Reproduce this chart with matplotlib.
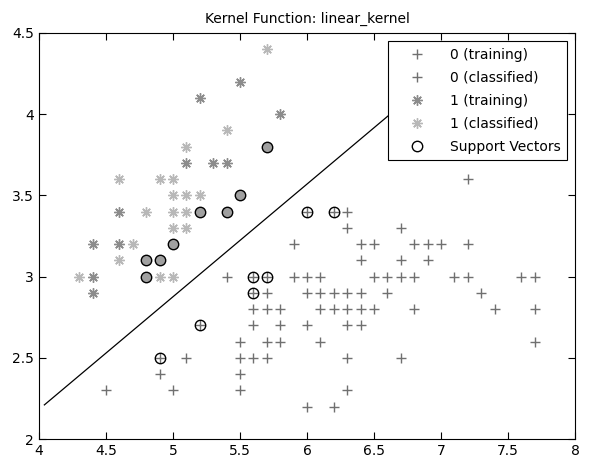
import numpy as np
import matplotlib.pyplot as plt
from matplotlib.ticker import FormatStrFormatter

plt.rcParams['font.family'] = ['DejaVu Sans']

# class 0 (non-setosa) points, read row by row
c0_train_x = [7.2,
              6.0, 6.2, 6.3,
              6.3, 6.7,
              5.9, 6.4, 6.5, 6.8, 6.9, 7.0, 7.2,
              6.4, 6.7, 6.9,
              5.4, 5.6, 5.7, 5.9, 6.0, 6.1, 6.5, 6.6, 6.7, 6.8, 7.1, 7.2, 7.6, 7.7,
              5.6, 5.7, 6.0, 6.1, 6.2, 6.3, 6.4, 6.6, 7.3,
              5.6, 5.7, 5.8, 6.1, 6.2, 6.3, 6.4, 6.5, 6.8, 7.4, 7.7,
              5.2, 5.6, 5.8, 6.0, 6.3, 6.4,
              5.5, 5.7, 5.8, 6.1, 7.7,
              4.9, 5.1, 5.5, 5.6, 5.7, 6.3, 6.7,
              4.9, 5.5,
              4.5, 5.0, 5.5, 6.3,
              6.0, 6.2]
c0_train_y = [3.6,
              3.4, 3.4, 3.4,
              3.3, 3.3,
              3.2, 3.2, 3.2, 3.2, 3.2, 3.2, 3.2,
              3.1, 3.1, 3.1,
              3.0, 3.0, 3.0, 3.0, 3.0, 3.0, 3.0, 3.0, 3.0, 3.0, 3.0, 3.0, 3.0, 3.0,
              2.9, 2.9, 2.9, 2.9, 2.9, 2.9, 2.9, 2.9, 2.9,
              2.8, 2.8, 2.8, 2.8, 2.8, 2.8, 2.8, 2.8, 2.8, 2.8, 2.8,
              2.7, 2.7, 2.7, 2.7, 2.7, 2.7,
              2.6, 2.6, 2.6, 2.6, 2.6,
              2.5, 2.5, 2.5, 2.5, 2.5, 2.5, 2.5,
              2.4, 2.4,
              2.3, 2.3, 2.3, 2.3,
              2.2, 2.2]
c0_class_x = []
c0_class_y = []

# class 1 (setosa)
c1_train_x = [5.5, 5.2, 5.8, 5.1, 5.3, 5.4, 4.6, 4.4, 4.6, 4.4, 4.4,
              5.7, 5.5, 5.2, 5.4, 5.0, 4.8, 4.9, 4.8]
c1_train_y = [4.2, 4.1, 4.0, 3.7, 3.7, 3.7, 3.4, 3.2, 3.2, 3.0, 2.9,
              3.8, 3.5, 3.4, 3.4, 3.2, 3.1, 3.1, 3.0]
c1_class_x = [5.7, 5.4, 5.1, 4.6, 4.9, 5.0, 5.0, 5.1, 5.2, 4.8, 5.0, 5.1,
              5.0, 5.1, 4.7, 4.6, 4.3, 4.9, 5.0]
c1_class_y = [4.4, 3.9, 3.8, 3.6, 3.6, 3.6, 3.5, 3.5, 3.5, 3.4, 3.4, 3.4,
              3.3, 3.3, 3.2, 3.1, 3.0, 3.0, 3.0]

# support vectors
sv0_x = [6.0, 6.2, 5.6, 5.7, 5.6, 5.2, 4.9]
sv0_y = [3.4, 3.4, 3.0, 3.0, 2.9, 2.7, 2.5]
sv1_x = [5.7, 5.5, 5.2, 5.4, 5.0, 4.8, 4.9, 4.8]
sv1_y = [3.8, 3.5, 3.4, 3.4, 3.2, 3.1, 3.1, 3.0]

# separating line (ends behind the legend)
boundary_x = [4.04, 6.75]
boundary_y = [2.21, 4.09]

star = (8, 2, 0)

fig = plt.figure(figsize=(5.9, 4.61), dpi=100)
ax = fig.add_axes([39/590, 22/461, 536/590, 406/461])

ax.plot(boundary_x, boundary_y, color='black', lw=0.9, zorder=1)

ax.plot(c0_train_x, c0_train_y, ls='none', marker='+', ms=7.5, mew=1.0,
        color='#707070', label='0 (training)')
ax.plot(c0_class_x, c0_class_y, ls='none', marker='+', ms=7.5, mew=1.0,
        color='#707070', label='0 (classified)')
ax.plot(c1_train_x, c1_train_y, ls='none', marker=star, ms=7.5, mew=1.0,
        color='#8c8c8c', label='1 (training)')
ax.plot(c1_class_x, c1_class_y, ls='none', marker=star, ms=7.5, mew=1.0,
        color='#b8b8b8', label='1 (classified)')
ax.plot(sv0_x, sv0_y, ls='none', marker='o', ms=7.5, mew=1.0,
        mec='black', mfc='none', label='Support Vectors')
ax.plot(sv1_x, sv1_y, ls='none', marker='o', ms=7.5, mew=1.0,
        mec='black', mfc='#a0a0a0')

ax.set_xlim(4, 8)
ax.set_ylim(2, 4.5)
ax.set_xticks(np.arange(4, 8.01, 0.5))
ax.set_yticks(np.arange(2, 4.51, 0.5))
ax.xaxis.set_major_formatter(FormatStrFormatter('%g'))
ax.yaxis.set_major_formatter(FormatStrFormatter('%g'))
ax.tick_params(direction='in', length=5, top=True, right=True, labelsize=10)
for s in ax.spines.values():
    s.set_linewidth(0.8)

ax.set_title('Kernel Function: linear_kernel', fontsize=10, pad=7)

leg = ax.legend(loc='upper right', fontsize=10, fancybox=False, framealpha=1,
                edgecolor='black', borderaxespad=0.6, labelspacing=0.65,
                handlelength=3.3, handletextpad=0.7, borderpad=0.45)
leg.get_frame().set_linewidth(0.8)
leg.set_zorder(5)

plt.savefig('out.png', dpi=100)
